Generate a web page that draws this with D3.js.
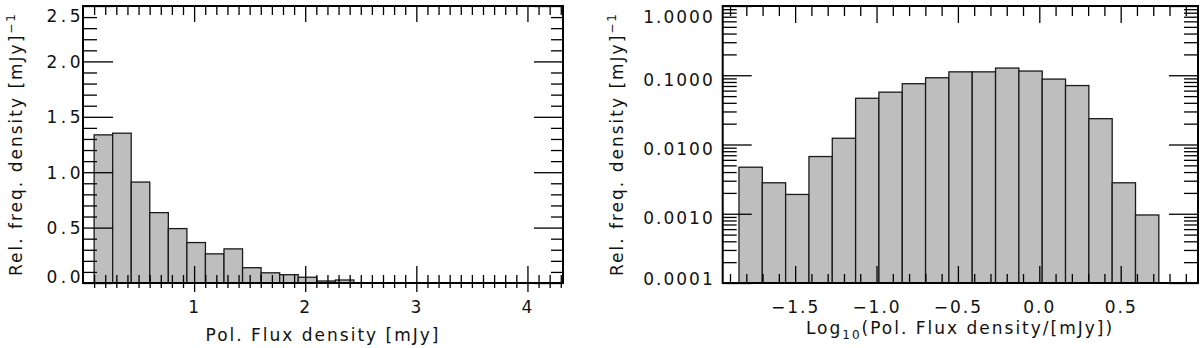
<!DOCTYPE html>
<html>
<head>
<meta charset="utf-8">
<script src="https://cdn.jsdelivr.net/npm/d3@7"></script>
<style>
  body { margin: 0; background: #fff; }
  svg text { font-family: "DejaVu Sans", sans-serif; font-size: 17px; letter-spacing: 2px; fill: #111; }
  .wide text { letter-spacing: 3.5px; }
</style>
</head>
<body>
<svg id="chart" width="1200" height="348"></svg>
<script>
// left panel: histogram of polarised flux density (linear)
var fluxBinStart = 0.1;
var fluxBinWidth = 0.167;
var fluxDensity = [1.337, 1.352, 0.911, 0.635, 0.491, 0.365, 0.263, 0.308, 0.138, 0.092, 0.075, 0.052, 0.018, 0.027];
var fluxXDomain = [0, 4.32];
var fluxYDomain = [0, 2.5];
var fluxXTicks = [1, 2, 3, 4];
var fluxYTicks = [0, 0.5, 1.0, 1.5, 2.0, 2.5];

// right panel: histogram of log10 flux density (log y)
var logBinStart = -1.845;
var logBinWidth = 0.1433;
var logDensity = [0.0047, 0.0028, 0.0019, 0.0067, 0.0123, 0.0465, 0.057, 0.0755, 0.092, 0.112, 0.112, 0.127, 0.115, 0.088, 0.071, 0.0236, 0.0028, 0.00096];
var logXDomain = [-1.945, 0.975];
var logYDomain = [1e-4, 1];
var logXTicks = [-1.5, -1.0, -0.5, 0.0, 0.5];
var logYTicks = [1e-4, 1e-3, 1e-2, 1e-1, 1];

var svg = d3.select("#chart");
var top_ = 6, bottom_ = 283;

function bins(start, width, vals) {
  return vals.map(function(v, i) {
    return { x0: start + i * width, x1: start + (i + 1) * width, v: v };
  });
}

function range(a, b, step) {
  var out = [];
  for (var i = 0; a + i * step <= b + 1e-9; i++) out.push(+(a + i * step).toFixed(4));
  return out;
}

function drawBars(g, data, x, y, base) {
  g.append("g").selectAll("rect")
    .data(data)
    .enter()
    .append("rect")
    .attr("x", function(d) { return x(d.x0); })
    .attr("width", function(d) { return x(d.x1) - x(d.x0); })
    .attr("y", function(d) { return y(d.v); })
    .attr("height", function(d) { return y(base) - y(d.v); })
    .attr("fill", "#bebebe")
    .attr("stroke", "#1a1a1a")
    .attr("stroke-width", 1.3);
}

function tickAxis(g, axis, tr) {
  var a = g.append("g").attr("transform", tr).call(axis);
  a.select(".domain").remove();
  a.selectAll("line").attr("stroke", "#000").attr("stroke-width", 1.3);
  a.attr("font-size", null).attr("font-family", null);
  return a;
}

function frame(g, x0, x1) {
  g.append("rect")
    .attr("x", x0).attr("y", top_)
    .attr("width", x1 - x0).attr("height", bottom_ - top_)
    .attr("fill", "none").attr("stroke", "#000").attr("stroke-width", 2);
}

// ---------- left panel ----------
var L = svg.append("g");
var xL = d3.scaleLinear().domain(fluxXDomain).range([83, 563]);
var yL = d3.scaleLinear().domain(fluxYDomain).range([bottom_, top_]);

drawBars(L, bins(fluxBinStart, fluxBinWidth, fluxDensity), xL, yL, 0);

var xLminor = range(0.1, 4.3, 0.1).filter(function(d) { return fluxXTicks.indexOf(d) < 0; });
var yLminor = range(0.1, 2.4, 0.1).filter(function(d) { return Math.abs(d * 2 - Math.round(d * 2)) > 1e-6; });

// bottom: ticks cross the axis
tickAxis(L, d3.axisBottom(xL).tickValues(xLminor).tickSize(-8).tickFormat(""), "translate(0," + bottom_ + ")");
tickAxis(L, d3.axisBottom(xL).tickValues(xLminor).tickSize(5).tickFormat(""), "translate(0," + bottom_ + ")");
tickAxis(L, d3.axisBottom(xL).tickValues(fluxXTicks).tickSize(9).tickFormat(""), "translate(0," + bottom_ + ")");
tickAxis(L, d3.axisBottom(xL).tickValues(fluxXTicks).tickSize(-17).tickPadding(18).tickFormat(d3.format("d")), "translate(0," + bottom_ + ")");
// top
tickAxis(L, d3.axisTop(xL).tickValues(xLminor).tickSize(-9).tickFormat(""), "translate(0," + top_ + ")");
tickAxis(L, d3.axisTop(xL).tickValues(fluxXTicks).tickSize(-16).tickFormat(""), "translate(0," + top_ + ")");
// left
tickAxis(L, d3.axisLeft(yL).tickValues(yLminor).tickSize(-14).tickFormat(""), "translate(83,0)");
var yLax = tickAxis(L, d3.axisLeft(yL).tickValues(fluxYTicks).tickSize(-30).tickPadding(-1).tickFormat(d3.format(".1f")), "translate(83,0)");
yLax.classed("wide", true);
yLax.selectAll("text").attr("dy", function(d) {
  var p = yL(d), c = Math.max(top_ + 9, Math.min(bottom_ - 6.5, p));
  return (c - p + 6) + "px";
});
// right
tickAxis(L, d3.axisRight(yL).tickValues(yLminor).tickSize(-12).tickFormat(""), "translate(563,0)");
tickAxis(L, d3.axisRight(yL).tickValues(fluxYTicks).tickSize(-29).tickFormat(""), "translate(563,0)");
frame(L, 83, 563);

L.append("text")
  .attr("x", 323).attr("y", 341)
  .attr("text-anchor", "middle")
  .text("Pol. Flux density [mJy]");

var yLabL = L.append("text")
  .attr("transform", "translate(22,144) rotate(-90)")
  .attr("text-anchor", "middle");
yLabL.append("tspan").text("Rel. freq. density [mJy]");
yLabL.append("tspan").attr("dy", "-7").style("font-size", "12px").text("\u22121");

// ---------- right panel ----------
var R = svg.append("g");
var xR = d3.scaleLinear().domain(logXDomain).range([722.7, 1198]);
var yR = d3.scaleLog().domain(logYDomain).range([bottom_, top_]);

drawBars(R, bins(logBinStart, logBinWidth, logDensity), xR, yR, 1e-4);

var xRminor = range(-1.9, 0.9, 0.1).filter(function(d) { return logXTicks.indexOf(d) < 0; });
var yRminor = [];
logYTicks.slice(0, -1).forEach(function(t) {
  for (var k = 2; k <= 9; k++) yRminor.push(t * k);
});

tickAxis(R, d3.axisBottom(xR).tickValues(xRminor).tickSize(-9).tickFormat(""), "translate(0," + bottom_ + ")");
tickAxis(R, d3.axisBottom(xR).tickValues(logXTicks).tickSize(-17).tickPadding(18).tickFormat(d3.format(".1f")), "translate(0," + bottom_ + ")");
tickAxis(R, d3.axisTop(xR).tickValues(xRminor).tickSize(-10).tickFormat(""), "translate(0," + top_ + ")");
tickAxis(R, d3.axisTop(xR).tickValues(logXTicks).tickSize(-17).tickFormat(""), "translate(0," + top_ + ")");

tickAxis(R, d3.axisLeft(yR).tickValues(yRminor).tickSize(-14).tickFormat(""), "translate(722.7,0)");
var yRax = tickAxis(R, d3.axisLeft(yR).tickValues(logYTicks).tickSize(-29).tickPadding(8).tickFormat(d3.format(".4f")), "translate(722.7,0)");
yRax.selectAll("text").attr("dy", function(d) {
  var p = yR(d), c = Math.max(top_ + 10, Math.min(bottom_ - 5, p + 4));
  return (c - p + 6) + "px";
});
tickAxis(R, d3.axisRight(yR).tickValues(yRminor).tickSize(-14).tickFormat(""), "translate(1198,0)");
tickAxis(R, d3.axisRight(yR).tickValues(logYTicks).tickSize(-29).tickFormat(""), "translate(1198,0)");
frame(R, 722.7, 1198);

var xLabR = R.append("text")
  .attr("x", 960).attr("y", 334)
  .attr("text-anchor", "middle");
xLabR.append("tspan").text("Log");
xLabR.append("tspan").attr("dy", "5").style("font-size", "12px").text("10");
xLabR.append("tspan").attr("dy", "-5").text("(Pol. Flux density/[mJy])");

var yLabR = R.append("text")
  .attr("transform", "translate(623,144) rotate(-90)")
  .attr("text-anchor", "middle");
yLabR.append("tspan").text("Rel. freq. density [mJy]");
yLabR.append("tspan").attr("dy", "-7").style("font-size", "12px").text("\u22121");
</script>
</body>
</html>
